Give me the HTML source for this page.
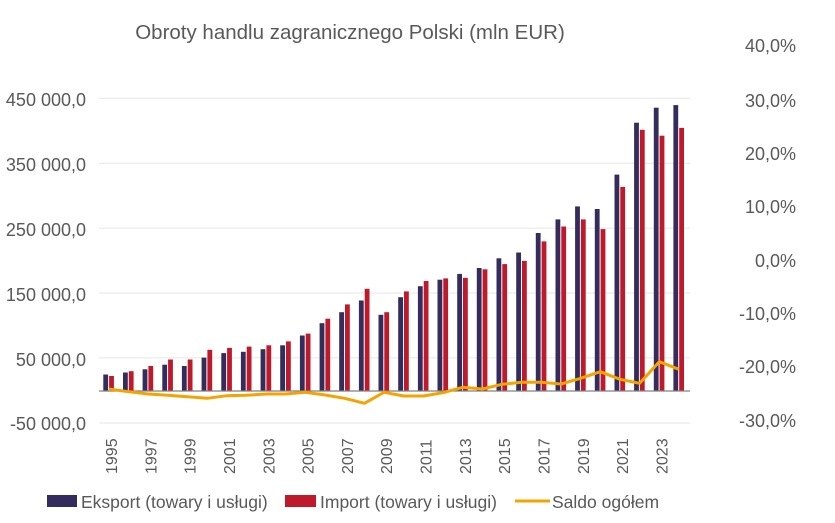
<!DOCTYPE html>
<html><head><meta charset="utf-8"><style>
body{margin:0;background:#fff;}
svg{display:block;font-family:"Liberation Sans",sans-serif;}
</style></head><body>
<svg width="835" height="523" viewBox="0 0 835 523">
<rect width="835" height="523" fill="#fff"/>
<text x="350" y="39" font-size="20.5" fill="#595959" text-anchor="middle">Obroty handlu zagranicznego Polski (mln EUR)</text>
<g stroke="#e6e6e6" stroke-width="1">
<line x1="99" y1="98.3" x2="690" y2="98.3"/>
<line x1="99" y1="163.2" x2="690" y2="163.2"/>
<line x1="99" y1="228.1" x2="690" y2="228.1"/>
<line x1="99" y1="293" x2="690" y2="293"/>
<line x1="99" y1="357.9" x2="690" y2="357.9"/>
<line x1="99" y1="423" x2="690" y2="423"/>
</g>
<g font-size="18" fill="#595959" text-anchor="end">
<text x="86" y="106">450 000,0</text>
<text x="86" y="171">350 000,0</text>
<text x="86" y="236">250 000,0</text>
<text x="86" y="301">150 000,0</text>
<text x="86" y="366">50 000,0</text>
<text x="86" y="430">-50 000,0</text>
</g>
<g font-size="18" fill="#595959" text-anchor="end">
<text x="796" y="52">40,0%</text>
<text x="796" y="107">30,0%</text>
<text x="796" y="160">20,0%</text>
<text x="796" y="213">10,0%</text>
<text x="796" y="267">0,0%</text>
<text x="796" y="320">-10,0%</text>
<text x="796" y="373">-20,0%</text>
<text x="796" y="427">-30,0%</text>
</g>
<g transform="translate(0,390.7) scale(1,-1)">
<g fill="#332c5c">
<rect x="103.3" y="0" width="4.8" height="16.2"/>
<rect x="123" y="0" width="4.8" height="18.2"/>
<rect x="142.6" y="0" width="4.8" height="21.4"/>
<rect x="162.3" y="0" width="4.8" height="26"/>
<rect x="181.9" y="0" width="4.8" height="24.7"/>
<rect x="201.6" y="0" width="4.8" height="33.1"/>
<rect x="221.3" y="0" width="4.8" height="37.6"/>
<rect x="240.9" y="0" width="4.8" height="38.9"/>
<rect x="260.6" y="0" width="4.8" height="41.5"/>
<rect x="280.2" y="0" width="4.8" height="45.4"/>
<rect x="299.9" y="0" width="4.8" height="55.2"/>
<rect x="319.6" y="0" width="4.8" height="67.5"/>
<rect x="339.2" y="0" width="4.8" height="78.5"/>
<rect x="358.9" y="0" width="4.8" height="90.2"/>
<rect x="378.5" y="0" width="4.8" height="75.9"/>
<rect x="398.2" y="0" width="4.8" height="93.5"/>
<rect x="417.9" y="0" width="4.8" height="104.5"/>
<rect x="437.5" y="0" width="4.8" height="111"/>
<rect x="457.2" y="0" width="4.8" height="116.8"/>
<rect x="476.8" y="0" width="4.8" height="122.7"/>
<rect x="496.5" y="0" width="4.8" height="132.4"/>
<rect x="516.2" y="0" width="4.8" height="138.2"/>
<rect x="535.8" y="0" width="4.8" height="157.7"/>
<rect x="555.5" y="0" width="4.8" height="171.3"/>
<rect x="575.1" y="0" width="4.8" height="184.3"/>
<rect x="594.8" y="0" width="4.8" height="181.7"/>
<rect x="614.5" y="0" width="4.8" height="216.1"/>
<rect x="634.1" y="0" width="4.8" height="268"/>
<rect x="653.8" y="0" width="4.8" height="283"/>
<rect x="673.4" y="0" width="4.8" height="285.6"/>
</g>
<g fill="#be1a2c">
<rect x="109.1" y="0" width="4.8" height="14.7"/>
<rect x="128.8" y="0" width="4.8" height="19.5"/>
<rect x="148.4" y="0" width="4.8" height="24.7"/>
<rect x="168.1" y="0" width="4.8" height="31.2"/>
<rect x="187.7" y="0" width="4.8" height="31.2"/>
<rect x="207.4" y="0" width="4.8" height="40.9"/>
<rect x="227.1" y="0" width="4.8" height="42.8"/>
<rect x="246.7" y="0" width="4.8" height="44.1"/>
<rect x="266.4" y="0" width="4.8" height="45.4"/>
<rect x="286" y="0" width="4.8" height="49.3"/>
<rect x="305.7" y="0" width="4.8" height="57.1"/>
<rect x="325.4" y="0" width="4.8" height="72"/>
<rect x="345" y="0" width="4.8" height="86.3"/>
<rect x="364.7" y="0" width="4.8" height="101.9"/>
<rect x="384.3" y="0" width="4.8" height="78.5"/>
<rect x="404" y="0" width="4.8" height="99.3"/>
<rect x="423.7" y="0" width="4.8" height="109.7"/>
<rect x="443.3" y="0" width="4.8" height="112.3"/>
<rect x="463" y="0" width="4.8" height="112.9"/>
<rect x="482.6" y="0" width="4.8" height="121.4"/>
<rect x="502.3" y="0" width="4.8" height="126.6"/>
<rect x="522" y="0" width="4.8" height="129.8"/>
<rect x="541.6" y="0" width="4.8" height="149.3"/>
<rect x="561.3" y="0" width="4.8" height="164.2"/>
<rect x="580.9" y="0" width="4.8" height="171.3"/>
<rect x="600.6" y="0" width="4.8" height="161.6"/>
<rect x="620.3" y="0" width="4.8" height="203.8"/>
<rect x="639.9" y="0" width="4.8" height="260.9"/>
<rect x="659.6" y="0" width="4.8" height="255"/>
<rect x="679.2" y="0" width="4.8" height="262.8"/>
</g>
</g>
<line x1="99" y1="391" x2="690" y2="391" stroke="#808080" stroke-width="1.2"/>
<polyline fill="none" stroke="#f5a300" stroke-width="3" stroke-linejoin="round" points="108.8,389 128.5,391.7 148.1,394 167.8,395.3 187.4,396.7 207.1,398.3 226.8,395.7 246.4,395.3 266.1,394 285.7,394 305.4,392.3 325.1,395 344.7,398.3 364.4,403.3 384,392.3 403.7,396 423.4,396 443,392.7 462.7,387.3 482.3,389 502,384.3 521.7,382.3 541.3,382.3 561,384 580.6,378.3 600.3,371.7 620,379.3 639.6,383.3 659.3,361.7 678.9,369.3"/>
<g font-size="16" fill="#595959">
<text transform="translate(117,474) rotate(-90)">1995</text>
<text transform="translate(156.3,474) rotate(-90)">1997</text>
<text transform="translate(195.6,474) rotate(-90)">1999</text>
<text transform="translate(235,474) rotate(-90)">2001</text>
<text transform="translate(274.3,474) rotate(-90)">2003</text>
<text transform="translate(313.6,474) rotate(-90)">2005</text>
<text transform="translate(352.9,474) rotate(-90)">2007</text>
<text transform="translate(392.2,474) rotate(-90)">2009</text>
<text transform="translate(431.6,474) rotate(-90)">2011</text>
<text transform="translate(470.9,474) rotate(-90)">2013</text>
<text transform="translate(510.2,474) rotate(-90)">2015</text>
<text transform="translate(549.5,474) rotate(-90)">2017</text>
<text transform="translate(588.8,474) rotate(-90)">2019</text>
<text transform="translate(628.2,474) rotate(-90)">2021</text>
<text transform="translate(667.5,474) rotate(-90)">2023</text>
</g>
<g font-size="17.5" fill="#595959">
<rect x="47" y="495" width="30" height="12" fill="#332c5c"/>
<text x="81" y="508">Eksport (towary i usługi)</text>
<rect x="285" y="495" width="31" height="12" fill="#be1a2c"/>
<text x="320" y="508">Import (towary i usługi)</text>
<line x1="515" y1="501" x2="550" y2="501" stroke="#f5a300" stroke-width="3"/>
<text x="552" y="508">Saldo ogółem</text>
</g>
</svg>
</body></html>
